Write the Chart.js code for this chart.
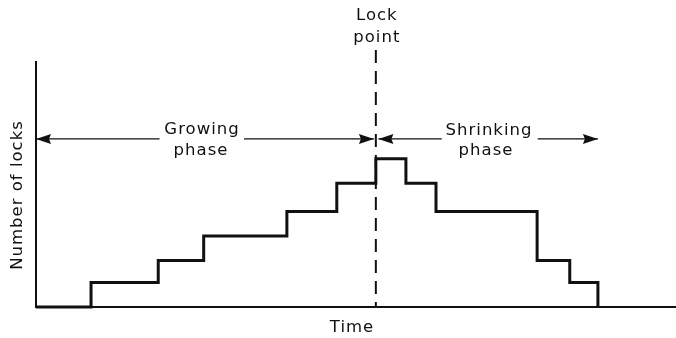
<!DOCTYPE html>
<html>
<head>
<meta charset="utf-8">
<script src="https://cdn.jsdelivr.net/npm/chart.js@4.4.0/dist/chart.umd.min.js"></script>
<style>
  body { margin: 0; background: #fff; }
  canvas { display: block; }
</style>
</head>
<body>
<canvas id="lockChart" width="676" height="338"></canvas>
<script>
// time of each step (0..100 across the axis) and the lock count from that time on
var stepTimes = [0, 8.6, 19.1, 26.2, 39.2, 47.0, 53.1, 57.8, 62.5, 78.3, 83.4, 87.8];
var lockCounts = [0, 1, 1.9, 2.9, 3.9, 5.05, 6.05, 5.05, 3.9, 1.9, 1, 0];

var lockPoint = 53.1;
var arrowLevel = 6.86;
// [tip, tail] of each arrow, in time units
var growArrows = [[0, 19.3], [52.8, 32.5]];
var shrinkArrows = [[53.5, 63.4], [87.8, 78.4]];

var ink = '#111111';
var font = '16.5px "DejaVu Sans"';

const ctx = document.getElementById('lockChart').getContext('2d');

const notes = {
    id: 'notes',
    afterDatasetsDraw(chart) {
        const c = chart.ctx;
        const xs = chart.scales.x;
        const ys = chart.scales.y;
        const area = chart.chartArea;
        c.save();
        c.strokeStyle = ink;
        c.fillStyle = ink;

        // lock point dashed line
        const lx = xs.getPixelForValue(lockPoint);
        c.lineWidth = 2;
        c.setLineDash([13, 8]);
        c.beginPath();
        c.moveTo(lx, 50);
        c.lineTo(lx, area.bottom);
        c.stroke();
        c.setLineDash([]);

        // arrows
        const ay = ys.getPixelForValue(arrowLevel);
        growArrows.concat(shrinkArrows).forEach(function(a) {
            const tip = xs.getPixelForValue(a[0]);
            const tail = xs.getPixelForValue(a[1]);
            const dir = tip < tail ? 1 : -1;
            c.lineWidth = 1.2;
            c.beginPath();
            c.moveTo(tail, ay);
            c.lineTo(tip, ay);
            c.stroke();
            c.beginPath();
            c.moveTo(tip, ay);
            c.lineTo(tip + dir * 15, ay - 5);
            c.lineTo(tip + dir * 13, ay);
            c.lineTo(tip + dir * 15, ay + 5);
            c.closePath();
            c.fill();
        });

        // texts
        c.font = font;
        c.letterSpacing = '1px';
        c.textAlign = 'center';
        c.textBaseline = 'alphabetic';
        c.fillText('Lock', lx + 1, 20);
        c.fillText('point', lx + 1, 42);
        c.fillText('Growing', 202, 134);
        c.fillText('phase', 201, 155);
        c.fillText('Shrinking', 489, 135);
        c.fillText('phase', 486, 155);
        c.fillText('Time', 352, 332);

        c.translate(22, 195);
        c.rotate(-Math.PI / 2);
        c.fillText('Number of locks', 0, 0);
        c.restore();
    }
};

var myChart = new Chart(ctx, {
    type: 'line',
    data: {
        datasets: [{
            label: 'Number of locks',
            data: stepTimes.map(function(t, i) { return { x: t, y: lockCounts[i] }; }),
            stepped: true,
            borderColor: ink,
            borderWidth: 3,
            pointRadius: 0,
            fill: false,
            clip: false
        }]
    },
    options: {
        responsive: false,
        animation: false,
        devicePixelRatio: 1,
        layout: { padding: { left: 36, right: 0, top: 62, bottom: 31 } },
        plugins: { legend: { display: false }, tooltip: { enabled: false } },
        scales: {
            x: {
                type: 'linear',
                min: 0,
                max: 100,
                ticks: { display: false },
                grid: { display: false },
                border: { display: true, color: ink, width: 2 },
                afterFit: function(s) { s.height = 0; }
            },
            y: {
                min: 0,
                max: 10,
                ticks: { display: false },
                grid: { display: false },
                border: { display: true, color: ink, width: 2 },
                afterFit: function(s) { s.width = 0; }
            }
        }
    },
    plugins: [notes]
});
</script>
</body>
</html>
